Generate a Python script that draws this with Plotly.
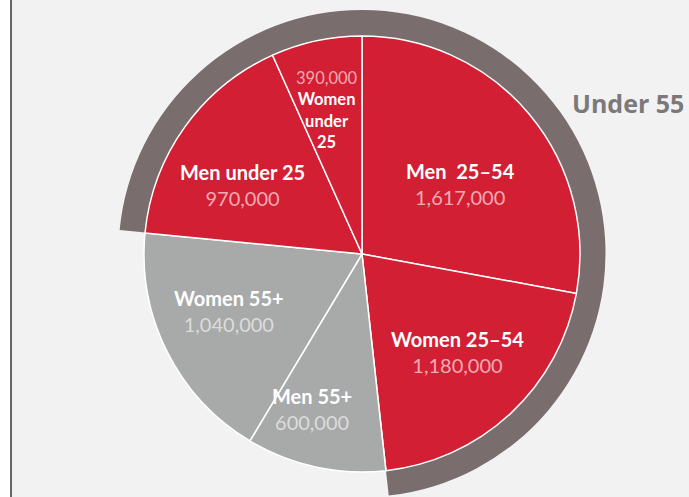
import plotly.graph_objects as go

# ---- data ----
categories = ["Men 25–54", "Women 25–54", "Men 55+", "Women 55+", "Men under 25", "Women under 25"]
values = [1617000, 1180000, 600000, 1040000, 970000, 390000]
groups = ["Under 55", "Under 55", "55+", "55+", "Under 55", "Under 55"]
value_labels = ["1,617,000", "1,180,000", "600,000", "1,040,000", "970,000", "390,000"]

# ---- style ----
W, H = 689, 497
RED = "#d21f33"
GRAY = "#a8a9a9"
DARK = "#796d6e"
BG = "#f2f2f2"
FONT = "Lato"

cx, cy = 362, 254          # pie centre in px (from top-left)
R_in = 218                 # pie radius
R_out = 244                # outer ring radius

def dom(r):
    cyb = H - cy
    return dict(x=[(cx - r) / W, (cx + r) / W], y=[max(0, (cyb - r) / H), min(1, (cyb + r) / H)])

slice_colors = [RED if g == "Under 55" else GRAY for g in groups]

# outer ring: consecutive runs of groups
ring_vals, ring_cols, ring_labs = [], [], []
for c, v, g in zip(categories, values, groups):
    if ring_labs and ring_labs[-1][0] == g:
        ring_vals[-1] += v
    else:
        ring_vals.append(v)
        ring_labs.append((g, len(ring_labs)))
        ring_cols.append(DARK if g == "Under 55" else "rgba(0,0,0,0)")

fig = go.Figure()
fig.add_trace(go.Pie(
    values=ring_vals, labels=[f"{g} {i}" for g, i in ring_labs],
    sort=False, direction="clockwise", rotation=0, hole=R_in / R_out,
    marker=dict(colors=ring_cols, line=dict(width=0)),
    textinfo="none", hoverinfo="skip", showlegend=False, domain=dom(R_out),
))
fig.add_trace(go.Pie(
    values=values, labels=categories,
    sort=False, direction="clockwise", rotation=0,
    marker=dict(colors=slice_colors, line=dict(color="white", width=1.5)),
    textinfo="none", showlegend=False, domain=dom(R_in),
))

# label placement (px) for each slice: centre of text block
label_pos = [(460, 184), (457, 352), (312, 409), (229, 311), (242, 185), (327, 110)]
annotations = []
for i, (c, vl, g) in enumerate(zip(categories, value_labels, groups)):
    px, py = label_pos[i]
    vcol = "#f3aab3" if g == "Under 55" else "#dcdcdc"
    if c == "Women under 25":
        txt = (f"<span style='color:{vcol}'>{vl}</span><br>"
               "<b>Women</b><br><b>under</b><br><b>25</b>")
        size = 16.5
    else:
        name = c.replace("Men 25–54", "Men\u00a0 25–54")
        txt = f"<b>{name}</b><br><span style='color:{vcol}'>{vl}</span>"
        size = 20
    annotations.append(dict(
        x=px / W, y=1 - py / H, xref="paper", yref="paper", text=txt,
        showarrow=False, font=dict(family=FONT, size=size, color="white"),
        align="center", xanchor="center", yanchor="middle",
    ))

annotations.append(dict(
    x=570 / W, y=1 - 103 / H, xref="paper", yref="paper", text="<b>Under 55</b>",
    showarrow=False, font=dict(family="Open Sans", size=25, color="#7d7879"),
    xanchor="left", yanchor="middle",
))

fig.update_layout(
    width=W, height=H, margin=dict(l=0, r=0, t=0, b=0),
    paper_bgcolor="white", plot_bgcolor="white",
    annotations=annotations,
    shapes=[
        dict(type="rect", xref="paper", yref="paper", x0=11 / W, x1=1, y0=0, y1=1,
             fillcolor=BG, line=dict(width=0), layer="below"),
        dict(type="line", xref="paper", yref="paper", x0=11 / W, x1=11 / W, y0=0, y1=1,
             line=dict(color="#666666", width=2)),
    ],
)

fig.write_html("out.html", config={"displayModeBar": False},
               post_script="document.body.style.margin='0';document.body.style.overflow='hidden';")
